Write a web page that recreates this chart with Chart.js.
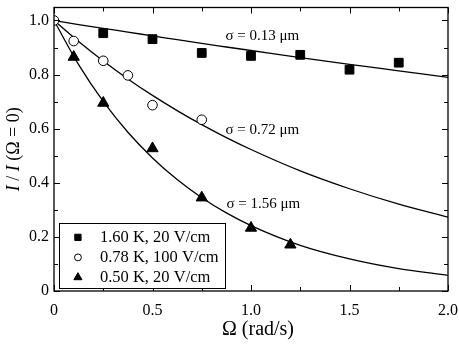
<!DOCTYPE html>
<html>
<head>
<meta charset="utf-8">
<script src="https://cdn.jsdelivr.net/npm/chart.js@4/dist/chart.umd.min.js"></script>
<style>
html,body{margin:0;padding:0;background:#fff;}
#wrap{width:459px;height:349px;}
</style>
</head>
<body>
<div id="wrap"><canvas id="c" width="459" height="349"></canvas></div>
<script>
// ---- data ----
const sq_x  = [0.25, 0.5, 0.75, 1.0, 1.25, 1.5, 1.75];
const sq_y  = [0.953, 0.931, 0.880, 0.869, 0.873, 0.818, 0.844];
const ci_x  = [0, 0.1, 0.25, 0.375, 0.5, 0.75];
const ci_y  = [1.0, 0.924, 0.851, 0.797, 0.687, 0.633];
const tr_x  = [0.1, 0.25, 0.5, 0.75, 1.0, 1.2];
const tr_y  = [0.865, 0.695, 0.527, 0.345, 0.233, 0.171];
const fit_x = [0, 0.125, 0.25, 0.375, 0.5, 0.625, 0.75, 0.875, 1.0, 1.25, 1.5, 1.75, 2.0];
const fit013 = [1.0, 0.985, 0.971, 0.957, 0.943, 0.929, 0.915, 0.902, 0.889, 0.863, 0.838, 0.814, 0.790];
const fit072 = [1.0, 0.922, 0.850, 0.784, 0.723, 0.667, 0.615, 0.567, 0.523, 0.444, 0.378, 0.321, 0.273];
const fit156 = [1.0, 0.837, 0.701, 0.587, 0.492, 0.412, 0.345, 0.289, 0.242, 0.169, 0.119, 0.083, 0.058];
const seriesNames = ['1.60 K, 20 V/cm', '0.78 K, 100 V/cm', '0.50 K, 20 V/cm'];
const fitLabels = ['\u03c3 = 0.13 \u03bcm', '\u03c3 = 0.72 \u03bcm', '\u03c3 = 1.56 \u03bcm'];
const xTicks = [0, 0.25, 0.5, 0.75, 1.0, 1.25, 1.5, 1.75, 2.0];
const yTicks = [0, 0.1, 0.2, 0.3, 0.4, 0.5, 0.6, 0.7, 0.8, 0.9, 1.0];
const xTitle = '\u03a9 (rad/s)';

const pts = (xs, ys) => xs.map((x, i) => ({x: x, y: ys[i]}));
const SERIF = '"Liberation Serif", "Times New Roman", serif';

const fitDs = (ys) => ({
  data: pts(fit_x, ys), showLine: true, pointRadius: 0, borderColor: '#000',
  borderWidth: 1.3, cubicInterpolationMode: 'monotone', fill: false, order: 5
});

const markerStyles = [
  {pointStyle: 'rect', radius: 6.2, bg: '#000', border: '#000'},
  {pointStyle: 'circle', radius: 4.8, bg: '#fff', border: '#000'},
  {pointStyle: 'triangle', radius: 6.5, bg: '#000', border: '#000'}
];
const markDs = (xs, ys, m) => ({
  data: pts(xs, ys), showLine: false, pointStyle: m.pointStyle, pointRadius: m.radius,
  pointBackgroundColor: m.bg, pointBorderColor: m.border, pointBorderWidth: 1, order: 1
});

const noPad = (s) => { s.paddingTop = 0; s.paddingBottom = 0; s.paddingLeft = 0; s.paddingRight = 0; };

const frame = {
  id: 'frame',
  afterDraw(chart) {
    const ctx = chart.ctx, a = chart.chartArea;
    const xs = chart.scales.x, ys = chart.scales.y;
    ctx.save();
    ctx.strokeStyle = '#000';
    ctx.lineWidth = 1.3;
    ctx.strokeRect(a.left, a.top, a.right - a.left, a.bottom - a.top);
    ctx.lineWidth = 1;
    ctx.beginPath();
    xTicks.forEach((v, i) => {
      const px = Math.round(xs.getPixelForValue(v)) + 0.5;
      const L = (i % 2 === 0) ? 6 : 4;
      ctx.moveTo(px, a.bottom); ctx.lineTo(px, a.bottom - L);
      ctx.moveTo(px, a.top); ctx.lineTo(px, a.top + L);
    });
    yTicks.forEach((v, i) => {
      const py = Math.round(ys.getPixelForValue(v)) + 0.5;
      const L = (i % 2 === 0) ? 6 : 4;
      ctx.moveTo(a.left, py); ctx.lineTo(a.left + L, py);
      ctx.moveTo(a.right, py); ctx.lineTo(a.right - L, py);
    });
    ctx.stroke();

    // fit labels
    ctx.fillStyle = '#000';
    ctx.font = '15px ' + SERIF;
    ctx.textBaseline = 'middle';
    ctx.textAlign = 'left';
    ctx.fillText(fitLabels[0], xs.getPixelForValue(0.87), ys.getPixelForValue(0.941));
    ctx.fillText(fitLabels[1], xs.getPixelForValue(0.87), ys.getPixelForValue(0.596));
    ctx.fillText(fitLabels[2], xs.getPixelForValue(0.875), ys.getPixelForValue(0.320));

    // legend box
    const lx = xs.getPixelForValue(0.025), ly = ys.getPixelForValue(0.25);
    const lw = 166, lh = 65;
    ctx.fillStyle = '#fff';
    ctx.fillRect(lx, ly, lw, lh);
    ctx.lineWidth = 1;
    ctx.strokeRect(Math.round(lx) + 0.5, Math.round(ly) + 0.5, lw, lh);
    ctx.font = '16.5px ' + SERIF;
    ctx.fillStyle = '#000';
    seriesNames.forEach((name, i) => {
      const cy = ly + 14 + i * 20;
      const m = markerStyles[i];
      ctx.save();
      ctx.fillStyle = m.bg; ctx.strokeStyle = m.border; ctx.lineWidth = 1;
      Chart.helpers.drawPoint(ctx, {pointStyle: m.pointStyle, radius: m.radius * 0.72, borderWidth: 1}, lx + 19, cy);
      ctx.restore();
      ctx.fillStyle = '#000';
      ctx.fillText(name, lx + 41, cy);
    });

    // axis titles
    ctx.font = '20px ' + SERIF;
    ctx.textAlign = 'center';
    ctx.fillText(xTitle, (a.left + a.right) / 2 + 7, 330);

    // y title with italic I
    ctx.save();
    ctx.translate(14, (a.top + a.bottom) / 2);
    ctx.rotate(-Math.PI / 2);
    const parts = [['I', 'italic '], [' / ', ''], ['I', 'italic '], [' (\u03a9 = 0)', '']];
    let total = 0;
    parts.forEach(p => { ctx.font = p[1] + '18px ' + SERIF; total += ctx.measureText(p[0]).width; });
    let x0 = -total / 2;
    ctx.textAlign = 'left';
    parts.forEach(p => { ctx.font = p[1] + '18px ' + SERIF; ctx.fillText(p[0], x0, 0); x0 += ctx.measureText(p[0]).width; });
    ctx.restore();
    ctx.restore();
  }
};

new Chart(document.getElementById('c'), {
  type: 'scatter',
  data: {
    datasets: [
      fitDs(fit013), fitDs(fit072), fitDs(fit156),
      markDs(sq_x, sq_y, markerStyles[0]),
      markDs(ci_x, ci_y, markerStyles[1]),
      markDs(tr_x, tr_y, markerStyles[2])
    ]
  },
  options: {
    responsive: false,
    animation: false,
    layout: {padding: {top: 3, right: 11, left: 0, bottom: 0}},
    plugins: {legend: {display: false}, tooltip: {enabled: false}},
    scales: {
      x: {
        type: 'linear', min: 0, max: 2,
        grid: {display: false, drawTicks: false}, border: {display: false},
        afterBuildTicks(s) { s.ticks = xTicks.map(v => ({value: v})); },
        afterFit(s) { s.height = 58; noPad(s); },
        ticks: {
          autoSkip: false, maxRotation: 0, padding: 10, color: '#000',
          font: {family: SERIF, size: 16},
          callback: (v, i) => (i % 2 === 0) ? (v === 0 ? '0' : v.toFixed(1)) : ''
        }
      },
      y: {
        type: 'linear', min: 0, max: 1.048,
        grid: {display: false, drawTicks: false}, border: {display: false},
        afterBuildTicks(s) { s.ticks = yTicks.map(v => ({value: v})); },
        afterFit(s) { s.width = 54; noPad(s); },
        ticks: {
          autoSkip: false, padding: 5, color: '#000',
          font: {family: SERIF, size: 16},
          callback: (v, i) => (i % 2 === 0) ? (v === 0 ? '0' : v.toFixed(1)) : ''
        }
      }
    }
  },
  plugins: [frame]
});
</script>
</body>
</html>
